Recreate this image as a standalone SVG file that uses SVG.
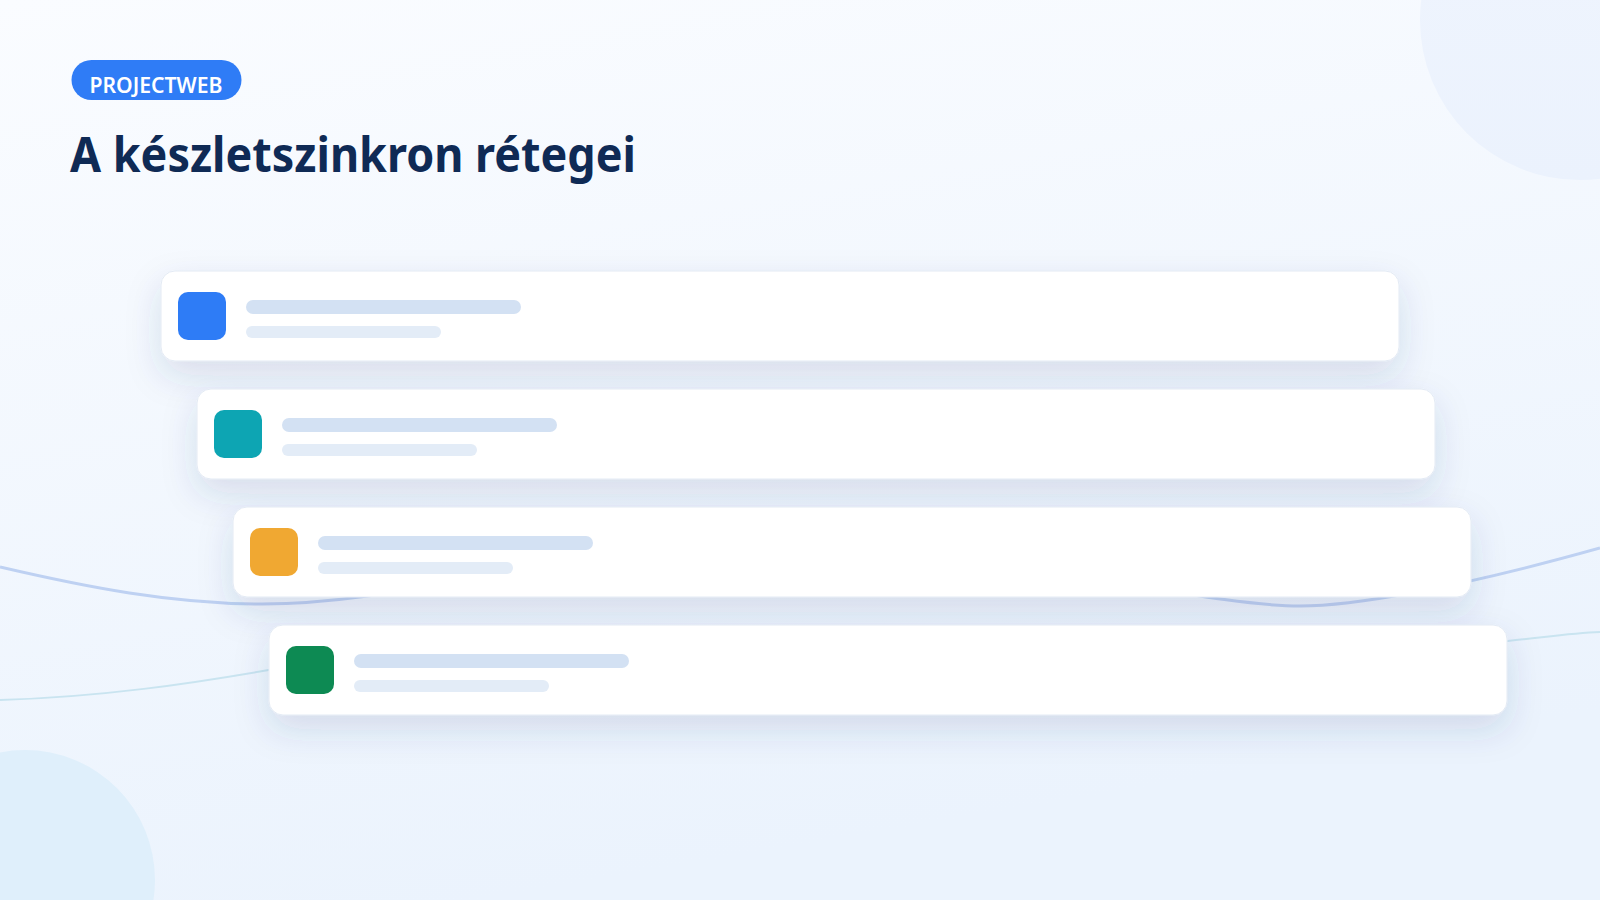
<svg xmlns="http://www.w3.org/2000/svg" width="1600" height="900" viewBox="0 0 1600 900">
  <defs>
    <linearGradient id="bg" x1="0" y1="0" x2="0.3" y2="1">
      <stop offset="0" stop-color="#fafcff"/>
      <stop offset="1" stop-color="#ebf3fd"/>
    </linearGradient>
    <linearGradient id="circTR" x1="0" y1="0" x2="0" y2="1">
      <stop offset="0" stop-color="#f0f5fe"/>
      <stop offset="1" stop-color="#ebf2fd"/>
    </linearGradient>
    <filter id="shadow" x="-10%" y="-40%" width="120%" height="200%">
      <feDropShadow dx="0" dy="14" stdDeviation="17" flood-color="#29487e" flood-opacity="0.14"/>
    </filter>
    <style>
      .card { fill: #ffffff; stroke: #e3eaf4; stroke-width: 1; }
      .bar1 { fill: #d3e1f3; }
      .bar2 { fill: #e3ecf7; }
      .badge-text { font-family: "Noto Sans", "Open Sans", sans-serif; font-weight: 600; font-size: 21.5px; fill: #ffffff; }
      .title { font-family: "Noto Sans", "Open Sans", sans-serif; font-weight: 700; font-size: 48px; fill: #0f2a55; }
    </style>
  </defs>

  <rect x="0" y="0" width="1600" height="900" fill="url(#bg)"/>
  <circle cx="1580" cy="20" r="160" fill="url(#circTR)"/>
  <circle cx="25" cy="880" r="130" fill="#dfeffb"/>

  <g id="connectors" fill="none">
    <path d="M0,567 C90,588 170,603 255,604 C420,606 560,540 780,545 C1000,550 1200,606 1300,606 C1350,606 1450,590 1600,548" stroke="#bed1f2" stroke-width="3"/>
    <path d="M0,700 C100,697 190,684 280,668 C600,640 1200,650 1508,641 C1540,638 1570,633 1600,632" stroke="#c9e4f0" stroke-width="2"/>
  </g>

  <g id="badge">
    <rect x="71.5" y="60" width="170" height="40" rx="20" fill="#2f7cf6"/>
    <text class="badge-text" x="89.5" y="92.5" textLength="133" lengthAdjust="spacingAndGlyphs">PROJECTWEB</text>
  </g>

  <g id="title">
    <text class="title" x="70" y="172" textLength="566" lengthAdjust="spacingAndGlyphs">A készletszinkron rétegei</text>
  </g>

  <g id="layer1" filter="url(#shadow)">
    <rect class="card" x="161" y="271" width="1238" height="90" rx="14"/>
    <rect x="178" y="292" width="48" height="48" rx="10" fill="#2f7cf6"/>
    <rect class="bar1" x="246" y="300" width="275" height="14" rx="7"/>
    <rect class="bar2" x="246" y="326" width="195" height="12" rx="6"/>
  </g>

  <g id="layer2" filter="url(#shadow)">
    <rect class="card" x="197" y="389" width="1238" height="90" rx="14"/>
    <rect x="214" y="410" width="48" height="48" rx="10" fill="#0fa5b3"/>
    <rect class="bar1" x="282" y="418" width="275" height="14" rx="7"/>
    <rect class="bar2" x="282" y="444" width="195" height="12" rx="6"/>
  </g>

  <g id="layer3" filter="url(#shadow)">
    <rect class="card" x="233" y="507" width="1238" height="90" rx="14"/>
    <rect x="250" y="528" width="48" height="48" rx="10" fill="#f0a832"/>
    <rect class="bar1" x="318" y="536" width="275" height="14" rx="7"/>
    <rect class="bar2" x="318" y="562" width="195" height="12" rx="6"/>
  </g>

  <g id="layer4" filter="url(#shadow)">
    <rect class="card" x="269" y="625" width="1238" height="90" rx="14"/>
    <rect x="286" y="646" width="48" height="48" rx="10" fill="#0f8a52"/>
    <rect class="bar1" x="354" y="654" width="275" height="14" rx="7"/>
    <rect class="bar2" x="354" y="680" width="195" height="12" rx="6"/>
  </g>
</svg>
